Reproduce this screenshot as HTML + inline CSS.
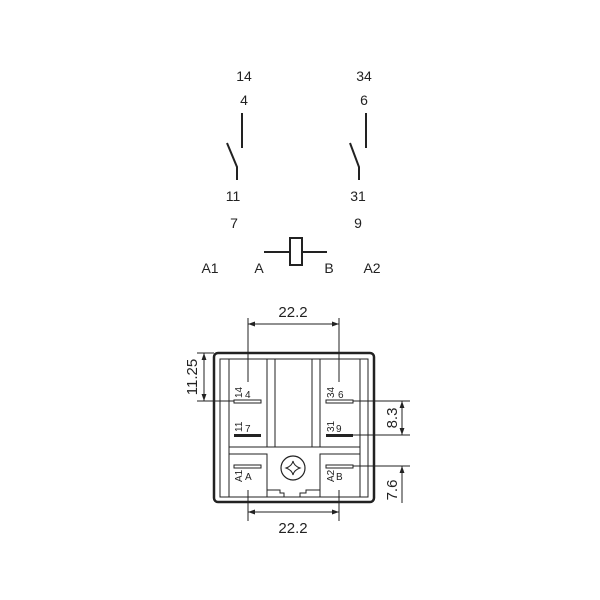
<!DOCTYPE html>
<html><head><style>
html,body{margin:0;padding:0;background:#fff}
svg{display:block}
text{font-family:"Liberation Sans Narrow","Liberation Sans",sans-serif;fill:#222}
</style></head><body>
<svg width="600" height="600" viewBox="0 0 600 600" xmlns="http://www.w3.org/2000/svg">
<defs>
<marker id="ar" viewBox="0 0 10 10" refX="10" refY="5" markerWidth="7" markerHeight="7" orient="auto-start-reverse"><path d="M0,1.5 L10,5 L0,8.5 z" fill="#222"/></marker>
</defs>
<g font-size="14" text-anchor="middle">
<text x="244" y="81">14</text><text x="244" y="105">4</text>
<text x="364" y="81">34</text><text x="364" y="105">6</text>
<text x="233" y="201">11</text><text x="234" y="228">7</text>
<text x="358" y="201">31</text><text x="358" y="228">9</text>
<text x="210" y="273">A1</text><text x="259" y="273">A</text>
<text x="329" y="273">B</text><text x="372" y="273">A2</text>
</g>
<g stroke="#222" stroke-width="2" fill="none">
<line x1="242" y1="113" x2="242" y2="148"/>
<polyline points="227,143 237,167 237,180"/>
<line x1="366" y1="113" x2="366" y2="148"/>
<polyline points="350,143 359,167 359,180"/>
<line x1="264" y1="252" x2="290" y2="252"/>
<line x1="302" y1="252" x2="327" y2="252"/>
<rect x="290" y="238" width="12" height="27"/>
</g>
<!-- relay body -->
<g stroke="#222" fill="none">
<rect x="214" y="353" width="160" height="149" rx="4" stroke-width="2.5"/>
<rect x="220" y="359" width="148" height="138" stroke-width="1"/>
<line x1="229" y1="359" x2="229" y2="497" stroke-width="1"/>
<line x1="360" y1="359" x2="360" y2="497" stroke-width="1"/>
<rect x="267" y="359" width="8" height="88" stroke-width="1"/>
<rect x="312" y="359" width="8" height="88" stroke-width="1"/>
<line x1="229" y1="447" x2="360" y2="447" stroke-width="1"/>
<rect x="229" y="454" width="38" height="43" stroke-width="1"/>
<rect x="320" y="454" width="40" height="43" stroke-width="1"/>
<polyline points="267,490 280,490 280,493 284,493 284,497 300,497 300,493 306,493 306,490 320,490" stroke-width="1"/>
<circle cx="293" cy="468" r="12" stroke-width="1.2"/>
<path d="M293,461 Q294,466 300,468 Q294,470 293,475 Q292,470 286,468 Q292,466 293,461 z" stroke-width="1"/>
<rect x="234" y="400" width="27" height="3" stroke-width="1"/>
<rect x="326" y="400" width="27" height="3" stroke-width="1"/>
<rect x="234" y="465" width="27" height="3" stroke-width="1"/>
<rect x="326" y="465" width="27" height="3" stroke-width="1"/>
</g>
<rect x="234" y="434" width="27" height="3" fill="#222"/>
<rect x="326" y="434" width="27" height="3" fill="#222"/>
<g font-size="10">
<text x="245" y="398">4</text><text x="338" y="398">6</text>
<text x="245" y="432">7</text><text x="336" y="432">9</text>
<text x="245" y="480">A</text><text x="336" y="480">B</text>
<text transform="translate(242,398) rotate(-90)">14</text>
<text transform="translate(334,398) rotate(-90)">34</text>
<text transform="translate(242,432) rotate(-90)">11</text>
<text transform="translate(334,432) rotate(-90)">31</text>
<text transform="translate(242,482) rotate(-90)">A1</text>
<text transform="translate(334,482) rotate(-90)">A2</text>
</g>
<!-- dimensions -->
<g stroke="#222" stroke-width="1" fill="none">
<line x1="248" y1="318" x2="248" y2="382"/>
<line x1="339" y1="318" x2="339" y2="382"/>
<line x1="248" y1="324" x2="339" y2="324" marker-start="url(#ar)" marker-end="url(#ar)"/>
<line x1="248" y1="490" x2="248" y2="521"/>
<line x1="339" y1="490" x2="339" y2="521"/>
<line x1="248" y1="512" x2="339" y2="512" marker-start="url(#ar)" marker-end="url(#ar)"/>
<line x1="197" y1="353" x2="214" y2="353"/>
<line x1="197" y1="401" x2="234" y2="401"/>
<line x1="204" y1="353" x2="204" y2="401" marker-start="url(#ar)" marker-end="url(#ar)"/>
<line x1="353" y1="401" x2="410" y2="401"/>
<line x1="353" y1="435" x2="410" y2="435"/>
<line x1="353" y1="466" x2="410" y2="466"/>
<line x1="402" y1="401" x2="402" y2="435" marker-start="url(#ar)" marker-end="url(#ar)"/>
<line x1="402" y1="466" x2="402" y2="503" marker-start="url(#ar)"/>
</g>
<g font-size="15" text-anchor="middle">
<text x="293" y="317">22.2</text>
<text x="293" y="533">22.2</text>
<text transform="translate(197,377) rotate(-90)">11.25</text>
<text transform="translate(397,418) rotate(-90)">8.3</text>
<text transform="translate(397,490) rotate(-90)">7.6</text>
</g>
</svg>
</body></html>
